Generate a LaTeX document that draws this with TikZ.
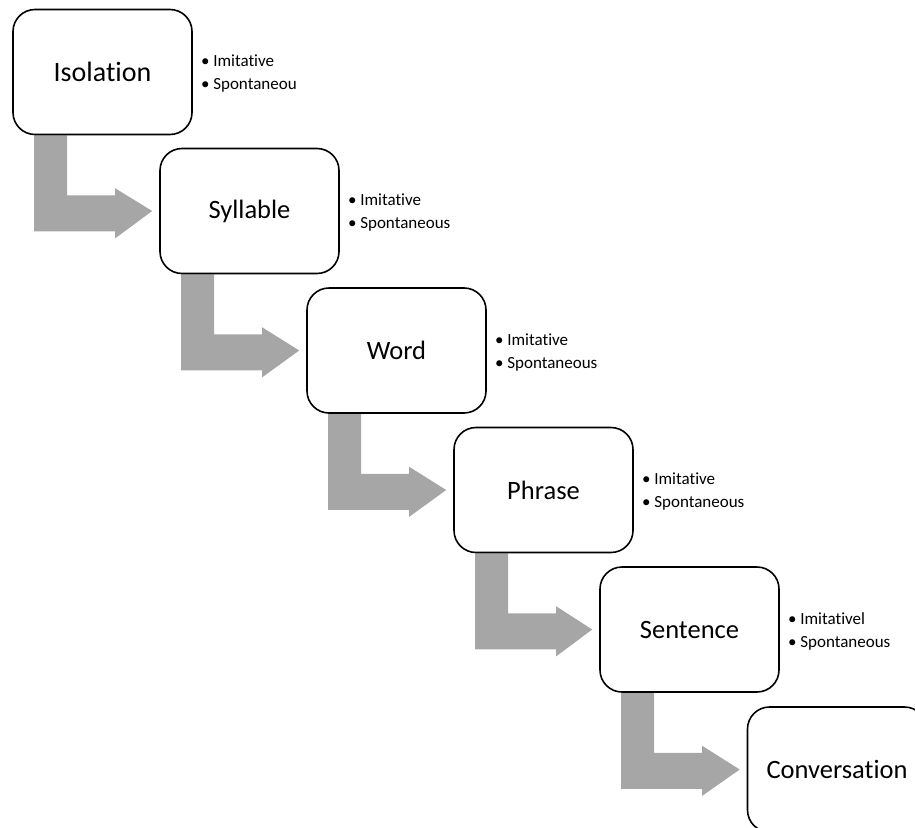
\documentclass[tikz,border=0pt]{standalone}
\usepackage{fontspec}
\setmainfont{Carlito}[Ligatures=NoCommon]
\usetikzlibrary{calc,backgrounds}
\definecolor{arrowgray}{HTML}{A6A6A6}
\begin{document}
\begin{tikzpicture}[x=1pt,y=-1pt,
  stage/.style={draw=black, line width=1.6pt, rounded corners=22pt,
    minimum width=179pt, minimum height=125pt, inner sep=0pt,
    font=\fontsize{26.5}{30}\selectfont},
  bullets/.style={anchor=west, align=left, inner sep=0pt,
    font=\fontsize{17}{23}\selectfont},
  bent/.style={fill=arrowgray}]
\useasboundingbox (0,0) rectangle (915,827);
\clip (0,0) rectangle (915,827);
\node[stage, font=\fontsize{28}{30}\selectfont] (iso) at (102.5,72) {Isolation};
\node[stage] (syl) at (249.5,211) {Syllable};
\node[stage] (wrd) at (396.5,350.5) {Word};
\node[stage] (phr) at (543.5,490) {Phrase};
\node[stage] (sen) at (689.5,629.5) {Sentence};
\node[stage] (con) at (837,769.5) {Conversation};
\node[bullets] (biso) at ($(iso.east)+(8,2)$) {• Imitative\\• Spontaneou};
\node[bullets] (bsyl) at ($(syl.east)+(8,2)$) {• Imitative\\• Spontaneous};
\node[bullets] (bwrd) at ($(wrd.east)+(8,2)$) {• Imitative\\• Spontaneous};
\node[bullets] (bphr) at ($(phr.east)+(8,2)$) {• Imitative\\• Spontaneous};
\node[bullets] (bsen) at ($(sen.east)+(8,2)$) {• Imitativel\\• Spontaneous};
\begin{scope}[on background layer]
\foreach \a/\b in {iso/syl, syl/wrd, wrd/phr, phr/sen, sen/con}{
  \fill[bent] ($(\a.south west)+(22,0)$) -- ($(\a.south west)+(55,0)$)
    -- ($(\a.south west)+(55,60)$) -- ($(\a.south west)+(103,60)$)
    -- ($(\a.south west)+(103,53)$) -- ($(\b.west)+(-7,0)$)
    -- ($(\a.south west)+(103,103)$) -- ($(\a.south west)+(103,96)$)
    -- ($(\a.south west)+(22,96)$) -- cycle;
}
\end{scope}
\end{tikzpicture}
\end{document}
